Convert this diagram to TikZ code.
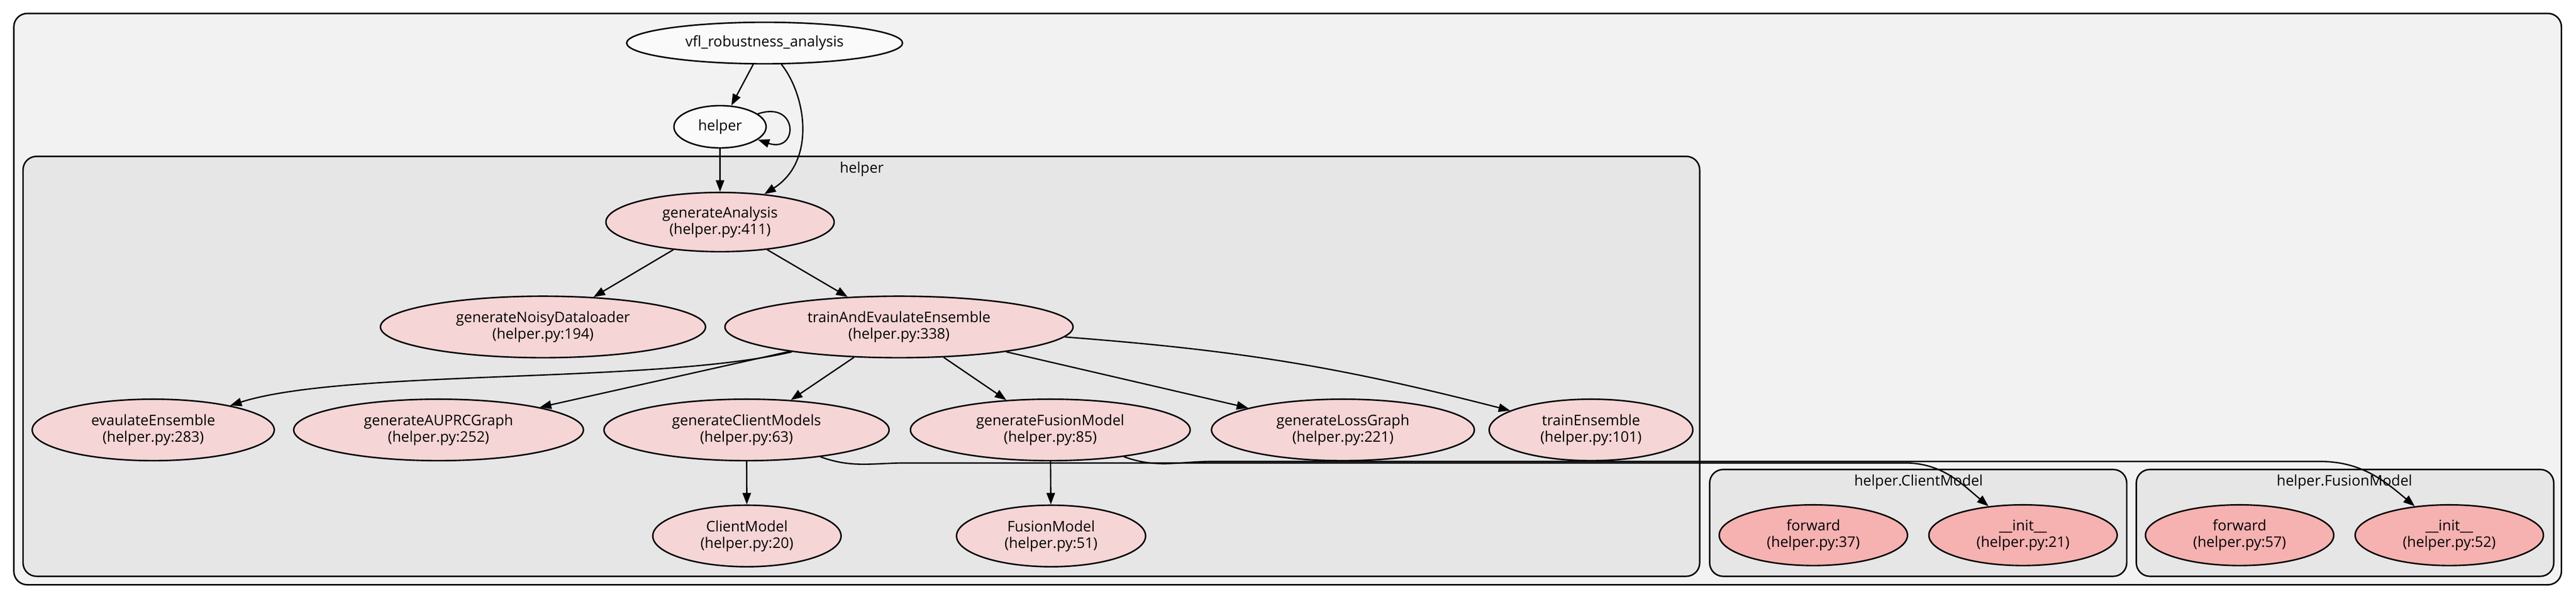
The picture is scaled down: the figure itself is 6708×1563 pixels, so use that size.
\documentclass[tikz,border=0pt]{standalone}
\usepackage{fontspec}
\setmainfont{Open Sans}
\usetikzlibrary{arrows.meta,shapes.geometric}
\definecolor{outerbg}{HTML}{F2F2F2}
\definecolor{clusterbg}{HTML}{E6E6E6}
\definecolor{fnfill}{HTML}{F5D5D5}
\definecolor{methfill}{HTML}{F6B1B1}
\definecolor{modfill}{HTML}{FAFAFA}
\tikzset{
    cluster/.style={draw=black,line width=1.1pt,rounded corners=0.35cm},
    clabel/.style={font=\fontsize{10.8}{12.2}\selectfont,inner sep=0pt},
    fn/.style={ellipse,draw=black,line width=1.1pt,fill=fnfill,inner sep=0pt,align=center,
        minimum height=1.6cm,font=\fontsize{10.8}{12.2}\selectfont},
    meth/.style={fn,fill=methfill,minimum width=4.9cm,minimum height=1.58cm},
    modnode/.style={fn,fill=modfill},
    edge/.style={draw=black,line width=1pt,-{Triangle[length=0.3cm,width=0.22cm]}}
}
\begin{document}
\begin{tikzpicture}[x=0.01cm,y=-0.01cm]
            \useasboundingbox[fill=white] (0,0) rectangle (6708,1563);
            \draw[cluster,fill=outerbg] (36,35) rectangle (6670,1522);
            \draw[cluster,fill=clusterbg] (60,407) rectangle (4426,1500);
            \draw[cluster,fill=clusterbg] (4452,1222) rectangle (5538,1500);
            \draw[cluster,fill=clusterbg] (5563,1222) rectangle (6650,1500);
            \node[clabel] (helperLbl) at (2244,440) {helper};
            \node[clabel] (clientLbl) at (4996,1255) {helper.ClientModel};
            \node[clabel] (fusionLbl) at (6105,1255) {helper.FusionModel};
            \node[modnode,minimum width=7.18cm,minimum height=1.08cm] (vfl) at (1991,112) {vfl\_robustness\_analysis};
            \node[modnode,minimum width=2.4cm,minimum height=1.1cm] (helperMod) at (1875,330) {helper};
            \node[fn,minimum width=5.94cm,minimum height=1.54cm] (genAnalysis) at (1875,578) {generateAnalysis\\(helper.py:411)};
            \node[fn,minimum width=8.46cm] (genNoisy) at (1414,851) {generateNoisyDataloader\\(helper.py:194)};
            \node[fn,minimum width=9.06cm] (trainEval) at (2341,851) {trainAndEvaulateEnsemble\\(helper.py:338)};
            \node[fn,minimum width=6.3cm] (evalEns) at (399,1119) {evaulateEnsemble\\(helper.py:283)};
            \node[fn,minimum width=7.54cm] (genAuprc) at (1142,1119) {generateAUPRCGraph\\(helper.py:252)};
            \node[fn,minimum width=7.42cm] (genClient) at (1944,1119) {generateClientModels\\(helper.py:63)};
            \node[fn,minimum width=7.28cm] (genFusion) at (2735,1119) {generateFusionModel\\(helper.py:85)};
            \node[fn,minimum width=6.84cm] (genLoss) at (3497,1119) {generateLossGraph\\(helper.py:221)};
            \node[fn,minimum width=5.3cm] (trainEns) at (4143,1119) {trainEnsemble\\(helper.py:101)};
            \node[fn,minimum width=4.9cm] (clientModel) at (1945,1395) {ClientModel\\(helper.py:20)};
            \node[fn,minimum width=4.92cm] (fusionModel) at (2737,1395) {FusionModel\\(helper.py:51)};
            \node[meth] (clientFwd) at (4722,1393) {forward\\(helper.py:37)};
            \node[meth] (clientInit) at (5268,1393) {\_\_init\_\_\\(helper.py:21)};
            \node[meth] (fusionFwd) at (5832,1393) {forward\\(helper.py:57)};
            \node[meth] (fusionInit) at (6378,1393) {\_\_init\_\_\\(helper.py:52)};
            \draw[edge] (vfl) -- (helperMod);
            \draw[edge] (vfl) .. controls (2100,250) and (2125,420) .. (genAnalysis);
            \draw[edge] (helperMod) .. controls (2080,260) and (2080,400) .. (helperMod);
            \draw[edge] (helperMod) -- (genAnalysis);
            \draw[edge] (genAnalysis) -- (genNoisy);
            \draw[edge] (genAnalysis) -- (trainEval);
            \draw[edge] (trainEval) .. controls (1700,1000) and (900,960) .. (evalEns);
            \draw[edge] (trainEval) -- (genAuprc);
            \draw[edge] (trainEval) -- (genClient);
            \draw[edge] (trainEval) -- (genFusion);
            \draw[edge] (trainEval) -- (genLoss);
            \draw[edge] (trainEval) to[bend left=5] (trainEns);
            \draw[edge] (genClient) -- (clientModel);
            \draw[edge] (genFusion) -- (fusionModel);
            \draw[edge] (genClient) to[out=-20,in=180] (2360,1205) -- (4960,1205) to[out=0,in=140] (clientInit);
            \draw[edge] (genFusion) to[out=-20,in=180] (3160,1201) -- (6040,1201) to[out=0,in=140] (fusionInit);
\end{tikzpicture}
\end{document}
